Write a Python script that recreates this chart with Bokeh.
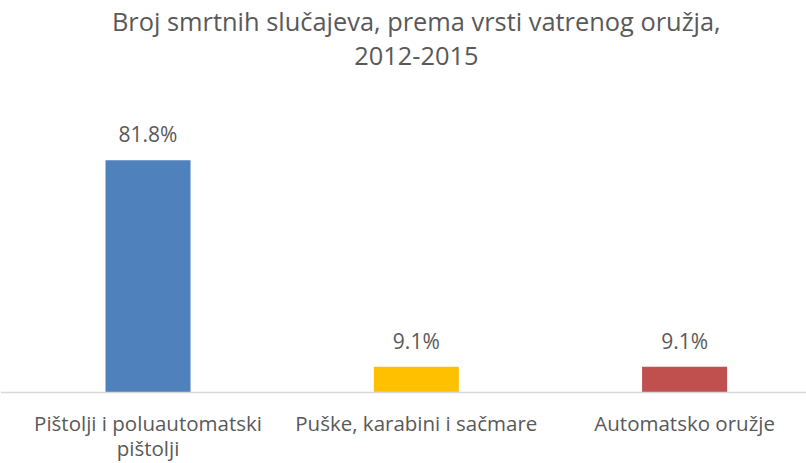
from bokeh.plotting import figure
from bokeh.models import ColumnDataSource, Range1d, LabelSet, Label, Span
from bokeh.core.properties import value
from bokeh.embed import file_html
from bokeh.resources import INLINE

title_lines = ["Broj smrtnih slučajeva, prema vrsti vatrenog oružja,", "2012-2015"]
categories = ["Pištolji i poluautomatski\npištolji", "Puške, karabini i sačmare", "Automatsko oružje"]
values = [81.8, 9.1, 9.1]
labels = ["81.8%", "9.1%", "9.1%"]
colors = ["#4f81bd", "#ffc000", "#c0504d"]

FONT = "Open Sans"
TXT = "#595959"

idx = list(range(len(categories)))
cat_line1 = [c.split("\n")[0] for c in categories]
cat_line2 = [c.split("\n")[1] if "\n" in c else "" for c in categories]
src = ColumnDataSource(dict(x=idx, top=values, base=[0] * len(idx), lab=labels,
                            cat1=cat_line1, cat2=cat_line2, color=colors))

W, H = 806, 463
p = figure(width=W, height=H, output_backend="svg", toolbar_location=None,
           x_range=Range1d(-0.5498, 2.4543), y_range=Range1d(-25.0, 138.03),
           min_border_left=0, min_border_right=0, min_border_top=0, min_border_bottom=0)
p.outline_line_color = None
p.xgrid.visible = False
p.ygrid.visible = False
p.yaxis.visible = False
p.xaxis.visible = False
p.background_fill_color = "white"
p.border_fill_color = "white"

p.vbar(x="x", top="top", width=0.317, bottom=0, color="color", source=src, line_color=None)

# baseline (category axis line)
p.add_layout(Span(location=0, dimension="width", line_color="#d9d9d9", line_width=1.5))

# category labels below the baseline (each line centred)
for col, off in (("cat1", -38), ("cat2", -63)):
    p.add_layout(LabelSet(x="x", y="base", text=col, source=src, y_offset=off,
                          text_align="center", text_baseline="alphabetic",
                          text_font=value(FONT), text_font_size="20.5px", text_color=TXT))

# data labels
p.add_layout(LabelSet(x="x", y="top", text="lab", source=src, y_offset=26,
                      text_align="center", text_baseline="middle",
                      text_font=value(FONT), text_font_size="21px", text_color=TXT))

p.add_layout(Label(x=1.0, y=130.8, text=title_lines[0], text_align="center",
                   text_baseline="middle", text_font=FONT, text_font_size="25.4px",
                   text_color=TXT))
p.add_layout(Label(x=1.0, y=118.5, text=title_lines[1], text_align="center",
                   text_baseline="middle", text_font=FONT, text_font_size="25.4px",
                   text_color=TXT))

open("out.html", "w").write(file_html(p, INLINE))
